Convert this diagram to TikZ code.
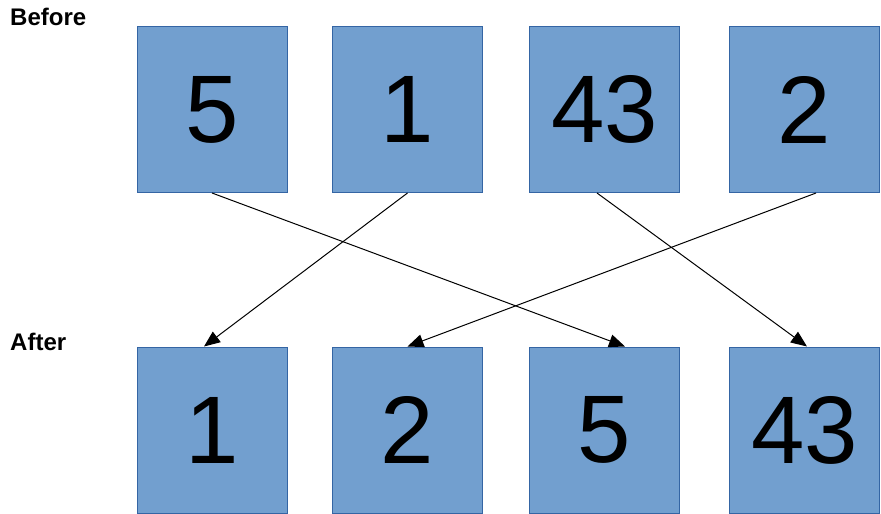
\documentclass[tikz,border=0pt]{standalone}
\usepackage{fontspec}
\setmainfont{Liberation Sans}
\usepackage{tikz}
\usetikzlibrary{arrows, arrows.meta}
\definecolor{boxfill}{HTML}{729FCF}
\definecolor{boxline}{HTML}{3465A4}

\begin{document}
\begin{tikzpicture}[x=1pt, y=-1pt]
\tikzstyle{cell}=[rectangle, draw=boxline, fill=boxfill, line width=1pt, minimum width=150pt, minimum height=166pt, inner sep=0pt, font=\fontsize{96}{96}\selectfont]
\tikzstyle{lbl}=[anchor=base west, inner sep=0pt, font=\fontsize{24}{24}\selectfont\bfseries]
\tikzstyle{move}=[-{Triangle[length=16pt, width=13pt]}, line width=1pt]

\useasboundingbox (0,0) rectangle (881,514);

\node[lbl] (before) at (10,25) {Before};
\node[lbl] (after) at (10,350) {After};

\foreach \n/\x/\v in {1/212/5, 2/407.5/1, 3/604.5/43, 4/804.5/2}
   \node[cell] (t\n) at (\x,109.5) {\v};

\foreach \n/\x/\v in {1/212/1, 2/407.5/2, 3/604.5/5, 4/804.5/43}
   \node[cell] (b\n) at (\x,430) {\v};

\draw[move] (t1.south) -- ([xshift=20.5pt]b3.north);
\draw[move] (t2.south) -- ([xshift=-8pt]b1.north);
\draw[move] ([xshift=-7.5pt]t3.south) -- ([xshift=2.5pt]b4.north);
\draw[move] ([xshift=11.5pt]t4.south) -- (b2.north);

\end{tikzpicture}
\end{document}
